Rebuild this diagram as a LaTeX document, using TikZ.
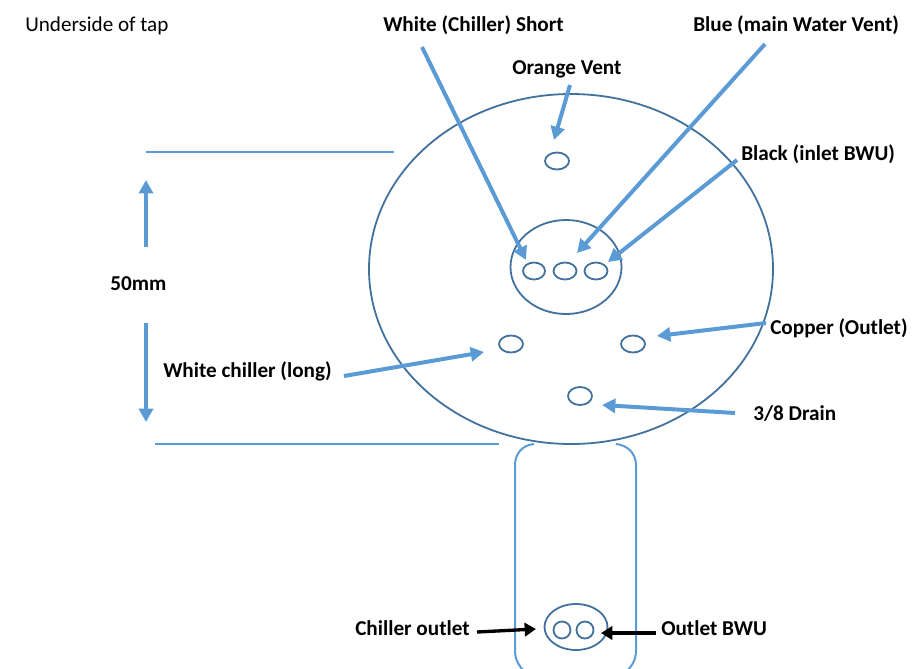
\documentclass[tikz,border=0pt]{standalone}
\usepackage{fontspec}
\setmainfont{Carlito}
\usetikzlibrary{arrows.meta}
\definecolor{ringc}{HTML}{41719C}
\definecolor{linec}{HTML}{5B9BD5}
\tikzset{
  x=0.75pt,y=-0.75pt,
  ring/.style={draw=ringc,line width=1.35pt,fill=none},
  pointer/.style={draw=linec,line width=3pt,-{Triangle[length=10pt,width=10.5pt]}},
  blackpointer/.style={draw=black,line width=2.5pt,-{Triangle[length=8.5pt,width=10pt]}},
  dimline/.style={draw=linec,line width=1.2pt},
  body/.style={draw=linec,line width=1.5pt},
  lab/.style={font=\bfseries\fontsize{15.9}{18}\selectfont,text=black,inner sep=0pt},
  plain/.style={font=\fontsize{15.85}{18}\selectfont,text=black,inner sep=0pt}
}
\begin{document}
\begin{tikzpicture}
\useasboundingbox (0,0) rectangle (916,668);
\clip (0,0) rectangle (916,668);
% shapes
\draw[ring] (571,269) ellipse [x radius=202,y radius=175];
\draw[ring] (566,267) ellipse [x radius=55.5,y radius=47];
\draw[ring] (557,161) ellipse [x radius=12,y radius=8.5];
\draw[ring] (534,271) ellipse [x radius=11,y radius=8.5];
\draw[ring] (565,271) ellipse [x radius=11.5,y radius=8.5];
\draw[ring] (596,271) ellipse [x radius=11.5,y radius=8.5];
\draw[ring] (511,344) ellipse [x radius=12,y radius=8.5];
\draw[ring] (633,344) ellipse [x radius=12,y radius=8.5];
\draw[ring] (580,396) ellipse [x radius=12,y radius=9];
\draw[ring] (576,627) ellipse [x radius=31.5,y radius=23];
\draw[ring] (562,630) ellipse [x radius=8.5,y radius=8.5];
\draw[ring] (585,630) ellipse [x radius=8.5,y radius=8.5];
% body
\draw[body] (534,444) .. controls (523,445) and (515,453) .. (515,465)
  -- (515,650) .. controls (515,660) and (519,666) .. (525,672);
\draw[body] (616,444) .. controls (627,445) and (636,453) .. (636,465)
  -- (636,650) .. controls (636,660) and (632,666) .. (626,672);
% dimension lines
\coordinate (t1) at (146,152); \coordinate (t2) at (394,152);
\coordinate (b1) at (155,444); \coordinate (b2) at (499,444);
\draw[dimline] (t1) -- (t2);
\draw[dimline] (b1) -- (b2);
% labels
\node[plain,anchor=base west] (under) at (25,31.5) {Underside of tap};
\node[lab,anchor=base west] (lshort) at (383,31) {White (Chiller) Short};
\node[lab,anchor=base west] (lblue) at (693,31) {Blue (main Water Vent)};
\node[lab,anchor=base west] (lorange) at (512,74) {Orange Vent};
\node[lab,anchor=base west] (lblack) at (741,160) {Black (inlet BWU)};
\node[lab,anchor=base west] (l50) at (110,290) {50mm};
\node[lab,anchor=base west] (lcopper) at (770,334) {Copper (Outlet)};
\node[lab,anchor=base west] (llong) at (163,377) {White chiller (long)};
\node[lab,anchor=base west] (ldrain) at (753,420.5) {3/8 Drain};
\node[lab,anchor=base west] (lcout) at (355,635.5) {Chiller outlet};
\node[lab,anchor=base west] (lbwu) at (661,635.5) {Outlet BWU};
% pointer ends
\coordinate (a1s) at (422,47);  \coordinate (a1e) at (526,260);
\coordinate (a2s) at (765,44);  \coordinate (a2e) at (577,253);
\coordinate (a3s) at (737,160); \coordinate (a3e) at (608,262);
\coordinate (a4s) at (570,85);  \coordinate (a4e) at (554,140);
\coordinate (a5s) at (766,323); \coordinate (a5e) at (657,336);
\coordinate (a6s) at (735,413); \coordinate (a6e) at (602,405);
\coordinate (a7s) at (344,376); \coordinate (a7e) at (484,352);
\coordinate (d1s) at (146,247); \coordinate (d1e) at (146,180);
\coordinate (d2s) at (146,323); \coordinate (d2e) at (146,422);
\coordinate (k1s) at (477,632); \coordinate (k1e) at (536,629);
\coordinate (k2s) at (656,633); \coordinate (k2e) at (601,633);
\foreach \a in {a1,a2,a3,a4,a5,a6,a7,d1,d2} \draw[pointer] (\a s) -- (\a e);
\draw[blackpointer] (k1s) -- (k1e);
\draw[blackpointer] (k2s) -- (k2e);
\end{tikzpicture}
\end{document}
